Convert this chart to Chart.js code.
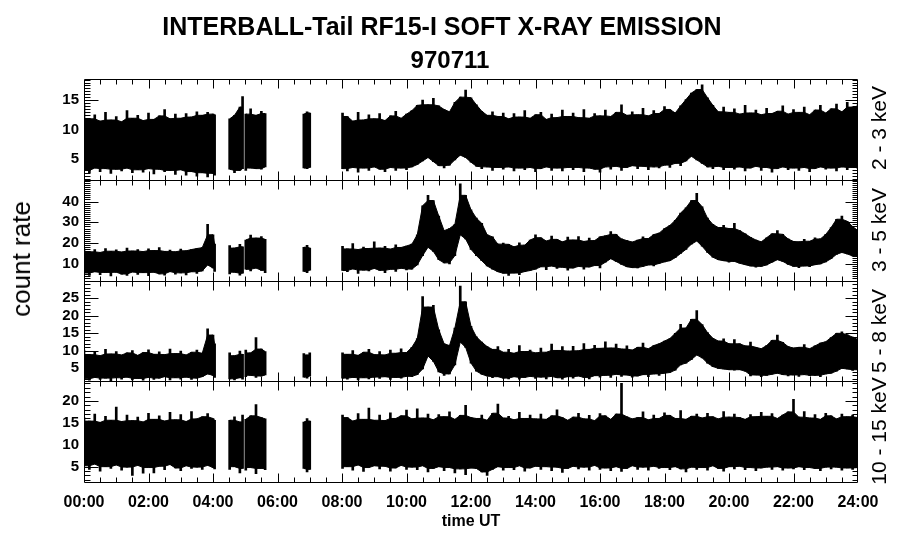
<!DOCTYPE html>
<html>
<head>
<meta charset="utf-8">
<title>INTERBALL-Tail RF15-I soft X-ray emission 970711</title>
<script src="https://cdn.jsdelivr.net/npm/chart.js@4.4.1/dist/chart.umd.min.js"></script>
<style>
  body { margin: 0; background: #fff; }
  #wrap { position: relative; width: 900px; height: 548px; overflow: hidden;
          font-family: "Liberation Sans", Arial, Helvetica, sans-serif; color: #000; }
  #chart { position: absolute; left: 0; top: 0; }
  .txt { position: absolute; white-space: nowrap; line-height: 1; }
  .title { width: 900px; text-align: center; font-weight: bold; }
  .rot { transform: translate(-50%, -50%) rotate(-90deg); }
</style>
</head>
<body>
<div id="wrap">
  <canvas id="chart" width="900" height="548"></canvas>
  <div class="txt title" style="left:-8px; top:14px; font-size:25px">INTERBALL-Tail RF15-I SOFT X-RAY EMISSION</div>
  <div class="txt title" style="left:0; top:48px; font-size:24px">970711</div>
  <div class="txt rot" style="left:21px; top:259px; font-size:26px">count rate</div>
  <div class="txt rot" style="left:878px; top:128px; font-size:21px">2 - 3 keV</div>
  <div class="txt rot" style="left:878px; top:230px; font-size:21px">3 - 5 keV</div>
  <div class="txt rot" style="left:878px; top:331px; font-size:21px">5 - 8 keV</div>
  <div class="txt rot" style="left:878px; top:431px; font-size:21px">10 - 15 keV</div>
  <div class="txt" style="left:471px; top:521px; transform:translate(-50%,-50%); font-weight:bold; font-size:16px">time UT</div>
</div>
<script>
(function () {
    "use strict";

    // sample times, minutes after 00:00 UT; 10 min steps inside each data block,
    // the single entries between blocks are gaps (null values below)
    const timesMin = [
        0, 10, 20, 30, 40, 50, 60, 70, 80, 90, 100, 110, 120,
        130, 140, 150, 160, 170, 180, 190, 200, 210, 220, 230, 240, 243,
        257,
        271, 280, 290, 295,
        298,
        301, 310, 320, 330, 337,
        370,
        409, 415, 420,
        450,
        481,
        490, 500, 510, 520, 530, 540,
        550, 560, 570, 580, 590, 600,
        610, 620, 630, 640, 650, 660,
        670, 680, 690, 700, 710, 720,
        730, 740, 750, 760, 770, 780,
        790, 800, 810, 820, 830, 840,
        850, 860, 870, 880, 890, 900,
        910, 920, 930, 940, 950, 960,
        970, 980, 990, 1000, 1010, 1020,
        1030, 1040, 1050, 1060, 1070, 1080,
        1090, 1100, 1110, 1120, 1130, 1140,
        1150, 1160, 1170, 1180, 1190, 1200,
        1210, 1220, 1230, 1240, 1250, 1260,
        1270, 1280, 1290, 1300, 1310, 1320,
        1330, 1340, 1350, 1360, 1370, 1380,
        1390, 1400, 1410, 1420, 1430, 1440
    ];

    // 2 - 3 keV: upper / lower edge of the count rate trace
    const hi23 = [
        14.3, 11.8, 12.5, 11.4, 12.9, 11.6, 12.2, 11.3, 13.2, 11.9, 12.4, 11.5, 12.8,
        11.7, 12.3, 13.4, 11.8, 12.6, 11.9, 12.7, 12.1, 13.0, 12.4, 12.9, 12.6, 12.5,
        null,
        11.8, 12.4, 13.8, 15.6,
        null,
        12.6, 13.5, 12.4, 13.1, 12.7,
        null,
        12.6, 13.0, 12.8,
        null,
        12.8,
        12.2, 11.4, 12.9, 11.6, 12.5, 11.8,
        12.7, 11.5, 12.3, 13.1, 11.9, 12.6,
        13.2, 14.1, 15.0, 14.2, 15.3, 14.0,
        13.4, 13.0, 14.6, 15.5, 16.7, 15.4,
        14.2, 13.1, 12.4, 13.0, 12.2, 12.8,
        11.8, 12.7, 12.1, 13.2, 11.9, 12.5,
        12.9, 11.7, 12.6, 12.0, 13.3, 12.2,
        12.8, 12.0, 13.4, 11.9, 12.7, 12.3,
        13.3, 12.2, 12.9, 14.2, 12.4, 13.0,
        12.5, 13.6, 12.3, 13.2, 12.7, 13.9,
        13.4, 12.8, 14.0, 15.1, 16.2, 16.8,
        17.6, 15.4, 14.1, 13.0, 13.8, 12.9,
        13.5, 12.6, 14.1, 12.8, 13.3, 12.5,
        13.6, 12.7, 13.1, 14.0, 12.6, 13.4,
        12.9, 13.8, 12.5, 13.3, 14.1, 12.8,
        13.5, 14.3, 13.0, 14.6, 13.8, 14.2
    ];
    const lo23 = [
        3.0, 2.6, 3.4, 2.8, 3.3, 2.5, 3.2, 2.9, 3.4, 2.6, 3.1, 2.7, 3.3,
        2.4, 3.2, 2.8, 3.0, 2.3, 3.1, 2.2, 2.8, 2.0, 2.6, 1.9, 2.5, 2.2,
        null,
        3.2, 2.6, 3.0, 3.3,
        null,
        3.0, 3.4, 3.3, 3.2, 3.6,
        null,
        3.4, 3.3, 3.5,
        null,
        3.3,
        2.9, 3.5, 2.7, 3.4, 3.0, 3.6,
        3.2, 2.8, 3.5, 3.0, 3.4, 3.1,
        3.6, 4.0, 4.6, 5.2, 4.5, 3.8,
        3.4, 3.9, 4.8, 5.6, 5.2, 4.4,
        3.7, 3.3, 3.6, 3.0, 3.5, 3.2,
        3.6, 2.9, 3.4, 3.1, 3.5, 2.8,
        3.3, 3.6, 3.0, 3.4, 2.9, 3.5,
        3.1, 3.5, 2.8, 3.4, 3.2, 2.7,
        3.6, 3.2, 3.7, 3.0, 3.5, 3.8,
        3.3, 3.7, 3.1, 3.6, 3.4, 3.9,
        3.5, 4.2, 3.8, 4.6, 5.4, 4.8,
        4.2, 3.6, 3.3, 3.7, 3.1, 3.5,
        3.2, 3.6, 2.9, 3.4, 3.7, 3.0,
        3.5, 2.7, 3.3, 3.6, 3.1, 3.4,
        3.0, 3.5, 2.8, 3.3, 3.6, 3.2,
        3.4, 2.9, 3.6, 3.1, 3.5, 3.3
    ];

    // 3 - 5 keV
    const hi35 = [
        17.2, 15.8, 16.9, 15.5, 17.4, 16.1, 16.8, 15.7, 17.6, 16.2, 16.9, 15.9, 17.3,
        16.4, 17.8, 16.0, 16.7, 15.8, 17.1, 16.3, 16.9, 17.4, 17.8, 29.0, 24.0, 19.5,
        null,
        18.8, 17.6, 19.4, 18.2,
        null,
        21.5, 23.9, 22.4, 23.2, 21.8,
        null,
        18.0, 18.9, 17.6,
        null,
        18.5,
        17.2, 19.8, 16.9, 18.1, 17.4, 20.6,
        17.6, 18.4, 17.1, 19.2, 17.9, 18.6,
        19.5, 24.0, 38.0, 43.0, 40.5, 33.0,
        26.0, 27.0, 29.0, 48.5, 43.0, 36.0,
        32.0, 29.5, 24.0, 23.0, 19.5, 20.0,
        19.4, 18.2, 20.1, 19.0, 21.5, 24.0,
        22.6, 21.0, 23.4, 21.8, 20.6, 22.9,
        21.5, 23.2, 20.8, 22.4, 21.2, 23.0,
        23.5, 25.5, 24.2, 22.0, 21.2, 20.5,
        21.4, 23.0, 22.2, 24.1, 24.8, 27.0,
        28.5, 31.0, 34.5, 37.0, 40.5, 44.0,
        37.5, 32.0, 29.0, 27.5, 28.5, 27.0,
        29.5, 26.0, 24.5, 22.8, 21.5, 20.6,
        22.6, 24.5, 26.0, 24.2, 22.0, 20.8,
        20.6, 21.8, 20.9, 22.5, 22.0, 24.2,
        27.5, 31.5, 33.0, 30.5, 28.0, 26.0
    ];
    const lo35 = [
        5.6, 4.4, 6.2, 4.8, 5.9, 4.2, 6.0, 5.1, 4.5, 6.1, 4.9, 5.8, 4.3,
        6.0, 5.2, 4.6, 6.3, 5.0, 5.7, 4.7, 6.2, 5.4, 6.6, 9.5, 8.0, 6.4,
        null,
        5.2, 6.0, 4.6, 5.5,
        null,
        7.4, 6.6, 8.0, 6.9, 5.8,
        null,
        6.4, 5.8, 7.0,
        null,
        6.8,
        6.2, 7.6, 5.4, 7.0, 6.6, 7.8,
        6.9, 5.8, 7.4, 6.4, 7.9, 7.1,
        7.5, 9.5, 14.0, 18.0, 16.0, 12.0,
        10.5, 10.0, 14.0, 24.0, 22.0, 17.0,
        14.0, 11.5, 9.0, 7.5, 6.2, 5.5,
        4.5, 5.6, 4.8, 6.3, 6.8, 7.5,
        8.6, 7.2, 9.0, 7.8, 8.4, 7.0,
        8.0, 8.8, 7.4, 8.5, 9.2, 8.1,
        10.8, 12.5, 11.2, 9.8, 8.6, 8.2,
        8.0, 8.8, 9.5, 9.0, 10.2, 11.0,
        11.5, 13.0, 15.0, 17.0, 19.5, 21.0,
        18.5, 15.5, 13.2, 12.0, 11.5, 10.8,
        11.2, 10.3, 9.6, 9.0, 8.4, 8.8,
        9.5, 10.8, 12.0, 11.2, 9.8, 8.8,
        8.2, 9.0, 8.6, 9.6, 10.0, 11.0,
        12.5, 14.6, 15.5, 14.8, 13.8, 13.5
    ];

    // 5 - 8 keV
    const hi58 = [
        10.2, 8.9, 9.6, 8.6, 10.4, 9.1, 9.8, 8.8, 9.4, 10.1, 8.7, 9.5, 10.3,
        9.0, 9.7, 8.9, 10.5, 9.2, 9.9, 8.8, 9.6, 10.2, 9.3, 16.3, 14.5, 12.0,
        null,
        9.4, 8.6, 9.9, 9.0,
        null,
        10.2, 9.4, 13.8, 10.5, 9.8,
        null,
        9.2, 8.8, 9.4,
        null,
        9.4,
        9.0, 10.1, 8.7, 9.6, 10.4, 8.9,
        9.8, 8.8, 10.2, 9.3, 10.6, 9.5,
        11.0, 13.5, 25.5, 22.5, 23.0, 16.0,
        12.0, 11.5, 16.5, 28.5, 24.0, 17.0,
        14.0, 12.5, 11.2, 10.4, 11.2, 9.6,
        10.4, 9.3, 11.5, 9.8, 10.2, 9.4,
        10.8, 9.6, 11.9, 10.1, 11.2, 9.9,
        11.3, 10.0, 12.1, 10.4, 11.6, 10.7,
        12.6, 10.8, 11.9, 10.5, 11.4, 10.2,
        11.0, 12.2, 10.6, 11.5, 12.0, 12.8,
        13.5, 15.0, 17.6, 16.5, 19.0, 21.5,
        17.5, 15.2, 13.6, 12.8, 13.4, 12.0,
        13.2, 12.0, 11.4, 12.5, 11.0, 10.6,
        11.5, 13.0, 14.5, 12.4, 11.2, 10.8,
        11.0, 11.8, 10.6, 11.4, 12.2, 12.6,
        13.8, 15.0, 15.4, 14.6, 13.9, 13.2
    ];
    const lo58 = [
        2.0, 1.6, 2.4, 1.8, 2.2, 1.5, 2.3, 1.9, 2.5, 1.7, 2.1, 1.6, 2.4,
        1.8, 2.2, 2.6, 1.7, 2.3, 1.9, 2.5, 1.8, 2.2, 2.6, 3.4, 3.0, 2.4,
        null,
        2.0, 1.7, 2.3, 1.9,
        null,
        2.6, 3.0, 2.4, 2.8, 3.1,
        null,
        2.5, 2.2, 2.8,
        null,
        2.2,
        1.9, 2.4, 1.7, 2.3, 2.0, 2.5,
        2.1, 2.6, 1.8, 2.4, 2.2, 2.7,
        2.6, 3.2, 4.8, 8.5, 7.0, 4.0,
        3.0, 3.4, 6.0, 12.5, 11.0, 6.5,
        4.2, 3.3, 2.8, 2.3, 2.6, 2.2,
        2.0, 2.6, 1.9, 2.4, 2.7, 2.1,
        2.5, 2.0, 2.7, 2.3, 1.9, 2.6,
        2.2, 2.8, 2.4, 2.0, 2.9, 2.5,
        3.0, 2.4, 3.3, 2.7, 3.1, 2.5,
        2.8, 3.2, 2.6, 3.4, 3.0, 3.6,
        3.8, 4.5, 6.0, 6.5, 7.5, 8.8,
        8.0, 6.5, 5.5, 5.0, 4.8, 4.6,
        4.5, 4.6, 4.2, 2.8, 3.1, 2.6,
        3.0, 3.3, 3.6, 3.2, 2.8, 3.1,
        2.7, 3.2, 2.9, 3.0, 2.6, 3.4,
        3.6, 4.2, 5.0, 4.8, 4.4, 4.6
    ];

    // 10 - 15 keV
    const hi1015 = [
        16.2, 15.4, 17.0, 15.1, 16.5, 15.6, 18.6, 15.3, 16.8, 15.5, 16.3, 15.2, 17.2,
        15.8, 16.6, 15.4, 17.4, 15.7, 16.9, 15.3, 17.6, 15.9, 16.4, 17.1, 16.0, 15.6,
        null,
        15.6, 16.4, 15.2, 16.8,
        null,
        15.8, 16.6, 19.2, 16.2, 15.9,
        null,
        15.2, 16.0, 15.4,
        null,
        16.8,
        16.2, 15.4, 17.1, 15.8, 18.4, 15.6,
        16.8, 15.5, 17.3, 16.0, 16.6, 17.9,
        15.9, 18.2, 16.1, 17.0, 15.7, 16.9,
        16.4, 17.5, 15.8, 16.7, 19.0, 16.2,
        16.0, 16.8, 15.6, 17.2, 19.3, 16.1,
        16.5, 15.7, 17.4, 16.0, 16.8, 15.9,
        17.0, 15.8, 16.6, 18.0, 16.2, 15.6,
        16.3, 17.2, 15.9, 16.7, 15.5, 17.1,
        16.6, 15.8, 17.0, 24.0, 16.4, 15.9,
        16.2, 17.5, 15.7, 16.8, 16.0, 17.3,
        16.7, 16.0, 17.8, 15.8, 16.5, 17.0,
        16.1, 17.2, 16.4, 15.9, 17.6, 16.3,
        17.0, 16.2, 15.8, 16.9, 16.4, 17.4,
        16.5, 17.1, 16.0, 16.8, 17.5, 20.4,
        16.3, 17.6, 16.1, 16.9, 15.8, 17.2,
        16.6, 15.9, 17.0, 16.4, 16.8, 16.2
    ];
    const lo1015 = [
        5.2, 4.4, 5.6, 4.0, 5.0, 4.6, 5.4, 4.2, 4.9, 3.0, 5.3, 3.5, 4.8,
        3.6, 5.1, 4.3, 5.5, 4.7, 4.1, 5.2, 4.6, 4.9, 4.4, 5.3, 4.8, 4.5,
        null,
        4.4, 5.0, 3.6, 4.6,
        null,
        4.2, 4.8, 3.4, 4.6, 4.3,
        null,
        4.6, 3.8, 4.4,
        null,
        4.6,
        5.0, 4.2, 5.4, 3.9, 4.8, 5.2,
        4.5, 5.1, 4.0, 4.7, 5.3, 4.4,
        4.9, 4.3, 5.2, 3.8, 4.6, 5.0,
        4.1, 4.8, 3.6, 4.5, 3.2, 4.7,
        4.6, 3.8, 3.0, 4.4, 5.0, 4.2,
        4.8, 4.3, 5.2, 4.0, 4.7, 5.1,
        4.4, 5.0, 4.1, 4.9, 3.7, 4.6,
        5.1, 4.5, 4.9, 4.2, 5.3, 4.4,
        4.7, 4.1, 5.0, 3.9, 4.6, 5.2,
        4.4, 4.9, 4.2, 5.1, 4.6, 4.8,
        4.3, 5.0, 4.5, 3.8, 4.9, 4.4,
        4.8, 4.2, 5.2, 4.6, 4.0, 5.0,
        4.5, 5.1, 4.3, 4.8, 4.1, 4.7,
        4.9, 4.4, 5.0, 4.2, 4.7, 4.5,
        5.0, 4.3, 4.8, 4.6, 4.1, 4.9,
        4.5, 4.9, 4.2, 4.7, 4.4, 4.8
    ];

    // axis ticks
    const xTickHours = [0, 2, 4, 6, 8, 10, 12, 14, 16, 18, 20, 22, 24];
    const xTickLabels = ['00:00', '02:00', '04:00', '06:00', '08:00', '10:00', '12:00',
                         '14:00', '16:00', '18:00', '20:00', '22:00', '24:00'];
    const yTicks23 = [5, 10, 15];
    const yTicks35 = [10, 20, 30, 40];
    const yTicks58 = [5, 10, 15, 20, 25];
    const yTicks1015 = [5, 10, 15, 20];

    const panels = [
        { id: 'y1', hi: hi23, lo: lo23, ticks: yTicks23, min: 1.4, max: 18.6, minor: 0.5 },
        { id: 'y2', hi: hi35, lo: lo35, ticks: yTicks35, min: 2, max: 50.5, minor: 1 },
        { id: 'y3', hi: hi58, lo: lo58, ticks: yTicks58, min: 1.3, max: 30.1, minor: 1 },
        { id: 'y4', hi: hi1015, lo: lo1015, ticks: yTicks1015, min: 1.5, max: 24.5, minor: 1 }
    ];

    function toPoints(values) {
        if (values.length !== timesMin.length) {
            console.error('length mismatch', values.length, timesMin.length);
        }
        return timesMin.map((m, i) => ({ x: m / 60, y: values[i] }));
    }

    // solid body of the trace: lone spikes cut back to the level of their neighbours
    function body(values, upper) {
        return values.map((v, i) => {
            if (v === null) return null;
            const near = [values[i - 1], values[i + 1]].filter(u => u !== null && u !== undefined);
            if (!near.length) return v;
            return upper ? Math.min(v, Math.max.apply(null, near))
                         : Math.max(v, Math.min.apply(null, near));
        });
    }

    const datasets = [];
    panels.forEach(p => {
        datasets.push({ data: toPoints(body(p.lo, false)), yAxisID: p.id, fill: false });
        datasets.push({ data: toPoints(body(p.hi, true)), yAxisID: p.id, fill: '-1', backgroundColor: '#000' });
        // single spikes from the lower to the upper edge
        datasets.push({
            type: 'bar',
            yAxisID: p.id,
            grouped: false,
            barThickness: 2,
            backgroundColor: '#000',
            borderWidth: 0,
            data: timesMin.map((m, i) => ({ x: m / 60, y: p.hi[i] === null ? null : [p.lo[i], p.hi[i]] }))
        });
    });

    const scales = {
        x: {
            type: 'linear',
            min: 0,
            max: 24,
            offset: false,
            afterBuildTicks: s => { s.ticks = xTickHours.map(v => ({ value: v })); },
            afterFit: s => { s.height = 66; },
            grid: { display: false, drawTicks: false },
            border: { display: false },
            ticks: {
                autoSkip: false,
                maxRotation: 0,
                padding: 11,
                color: '#000',
                font: { family: '"Liberation Sans", Arial, sans-serif', size: 16, weight: 'bold' },
                callback: (v, i) => xTickLabels[i]
            }
        }
    };
    panels.forEach((p, k) => {
        scales[p.id] = {
            type: 'linear',
            position: 'left',
            stack: 'panels',
            stackWeight: 1,
            weight: 4 - k,
            min: p.min,
            max: p.max,
            afterBuildTicks: s => { s.ticks = p.ticks.map(v => ({ value: v })); },
            afterFit: s => { s.width = 84; },
            grid: { display: false, drawTicks: false },
            border: { display: false },
            ticks: {
                autoSkip: false,
                padding: 5,
                color: '#000',
                font: { family: '"Liberation Sans", Arial, sans-serif', size: 15, weight: 'bold' },
                callback: v => String(v)
            }
        };
    });

    // box round every panel with inward tick marks, as in the IDL plot
    const frameTicks = {
        id: 'frameTicks',
        afterDatasetsDraw(chart) {
            const ctx = chart.ctx;
            const area = chart.chartArea;
            const xs = chart.scales.x;
            const left = area.left + 0.5;
            const right = area.right - 0.5;
            ctx.save();
            ctx.strokeStyle = '#000';
            ctx.lineWidth = 1;
            ctx.beginPath();
            panels.forEach(p => {
                const ys = chart.scales[p.id];
                const top = Math.round(ys.top) + 0.5;
                const bot = Math.round(ys.bottom) + 0.5;
                ctx.moveTo(left, top); ctx.lineTo(right, top);
                ctx.lineTo(right, bot); ctx.lineTo(left, bot);
                ctx.closePath();
                for (let m = 30; m < 1440; m += 30) {
                    const px = Math.round(xs.getPixelForValue(m / 60)) + 0.5;
                    const len = m % 120 === 0 ? 9 : 5;
                    ctx.moveTo(px, top); ctx.lineTo(px, top + len);
                    ctx.moveTo(px, bot); ctx.lineTo(px, bot - len);
                }
                const n0 = Math.ceil(p.min / p.minor);
                const n1 = Math.floor(p.max / p.minor);
                for (let n = n0; n <= n1; n++) {
                    const v = n * p.minor;
                    const py = Math.round(ys.getPixelForValue(v)) + 0.5;
                    const major = p.ticks.indexOf(v) >= 0;
                    ctx.moveTo(left, py); ctx.lineTo(left + (major ? 14 : 6), py);
                    ctx.moveTo(right, py); ctx.lineTo(right - (major ? 12 : 5), py);
                }
            });
            ctx.stroke();
            ctx.restore();
        }
    };

    new Chart(document.getElementById('chart'), {
        type: 'line',
        data: { datasets: datasets },
        options: {
            responsive: false,
            animation: false,
            events: [],
            layout: { padding: { top: 79, right: 42, bottom: 0, left: 0 } },
            elements: {
                point: { radius: 0 },
                line: { borderColor: '#000', borderWidth: 1, tension: 0 }
            },
            plugins: { legend: { display: false }, tooltip: { enabled: false } },
            scales: scales
        },
        plugins: [frameTicks]
    });
})();
</script>
</body>
</html>
